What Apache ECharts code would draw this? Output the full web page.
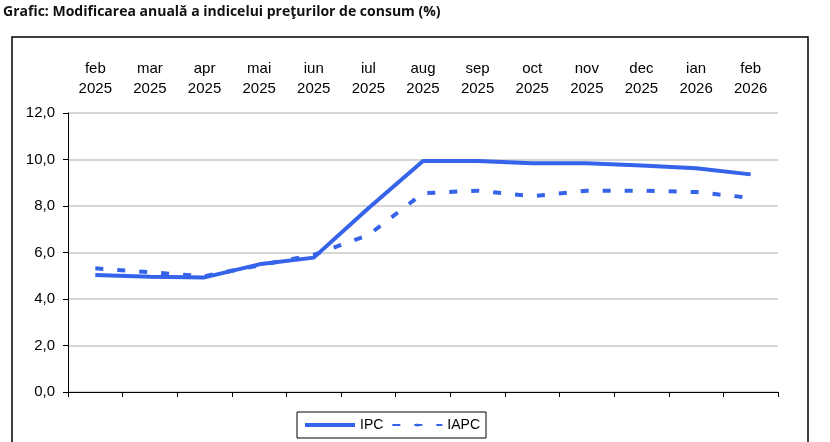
<!DOCTYPE html>
<html>
<head>
<meta charset="utf-8">
<script src="https://cdn.jsdelivr.net/npm/echarts@6/dist/echarts.min.js"></script>
<style>html,body{margin:0;padding:0;background:#fff;}#c{width:830px;height:442px;}</style>
</head>
<body>
<div id="c"></div>
<script>
const titleText = 'Grafic: Modificarea anuală a indicelui preţurilor de consum (%)';
const categories = ['feb\n2025','mar\n2025','apr\n2025','mai\n2025','iun\n2025','iul\n2025','aug\n2025','sep\n2025','oct\n2025','nov\n2025','dec\n2025','ian\n2026','feb\n2026'];
const ipc  = [5.03, 4.96, 4.93, 5.49, 5.78, 7.9, 9.94, 9.94, 9.84, 9.84, 9.74, 9.62, 9.36];
const iapc = [5.32, 5.15, 4.98, 5.45, 5.9, 6.75, 8.55, 8.66, 8.42, 8.66, 8.66, 8.6, 8.35];
const yTicks = {min: 0, max: 12, interval: 2};
const blue = '#3563E9';

const chart = echarts.init(document.getElementById('c'), null, {renderer: 'canvas'});
chart.setOption({
  animation: false,
  backgroundColor: '#fff',
  graphic: [
    {type: 'text', left: 3, top: 5, style: {text: titleText, font: 'bold 14px "Open Sans"', fill: '#111'}},
    {type: 'rect', shape: {x: 12, y: 37, width: 796, height: 420}, style: {fill: 'none', stroke: '#000', lineWidth: 1.5}, z: -1}
  ],
  grid: {left: 68, top: 113, right: 52, bottom: 50},
  legend: {
    left: 297, top: 412,
    borderColor: '#000', borderWidth: 1, borderRadius: 0,
    padding: [6, 6, 6, 8], itemGap: 8, itemWidth: 50, itemHeight: 4,
    textStyle: {fontFamily: 'Liberation Sans', fontSize: 14, color: '#000'},
    data: [{name: 'IPC', icon: 'rect'}, {name: 'IAPC'}]
  },
  xAxis: [
    {type: 'category', data: categories, position: 'bottom', boundaryGap: true,
     axisLine: {lineStyle: {color: '#000', width: 1}},
     axisTick: {show: true, length: 5, lineStyle: {color: '#000'}},
     axisLabel: {show: false}, splitLine: {show: false}},
    {type: 'category', data: categories, position: 'top', boundaryGap: true,
     axisLine: {show: false}, axisTick: {show: false},
     axisLabel: {show: true, margin: 14, fontFamily: 'Liberation Sans', fontSize: 15, color: '#000', lineHeight: 20, interval: 0},
     splitLine: {show: false}}
  ],
  yAxis: {
    type: 'value', min: yTicks.min, max: yTicks.max, interval: yTicks.interval,
    axisLine: {show: true, lineStyle: {color: '#000', width: 1}},
    axisTick: {show: true, length: 5, lineStyle: {color: '#000'}},
    axisLabel: {margin: 13, fontFamily: 'Liberation Sans', fontSize: 15, color: '#000',
      formatter: v => v.toFixed(1).replace('.', ',')},
    splitLine: {show: true, lineStyle: {color: '#c8c8c8', width: 1.5}}
  },
  series: [
    {name: 'IPC', type: 'line', data: ipc, xAxisIndex: 0, symbol: 'none', smooth: false,
     lineStyle: {color: blue, width: 4}, itemStyle: {color: blue}},
    {name: 'IAPC', type: 'line', data: iapc, xAxisIndex: 0, symbol: 'none', smooth: false,
     lineStyle: {color: blue, width: 4, type: [8, 14]}, itemStyle: {color: blue}}
  ]
});
</script>
</body>
</html>
